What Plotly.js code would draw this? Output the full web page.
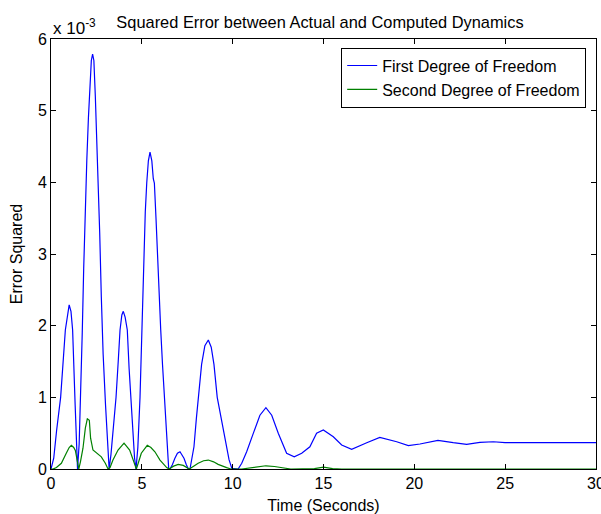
<!DOCTYPE html>
<html>
<head>
<meta charset="utf-8">
<script src="https://cdn.plot.ly/plotly-3.0.1.min.js"></script>
<style>html,body{margin:0;padding:0;background:#fff;}#chart{width:601px;height:514px;}</style>
</head>
<body>
<div id="chart"></div>
<script>
// Time (seconds) and squared error (in units of 1e-3)
const timeFirst = [0, 0.15, 0.31, 0.53, 0.79, 0.9, 1.0, 1.1, 1.19, 1.33, 1.46,
  1.55, 1.63, 1.72, 1.8, 1.88, 1.97, 2.06, 2.15, 2.22, 2.29, 2.36, 2.44, 2.52, 2.6, 2.68, 2.77, 2.87, 3.0, 3.1, 3.2,
  3.3, 3.45, 3.58, 3.7, 3.8, 3.9, 3.98, 4.08, 4.2, 4.3, 4.39, 4.5, 4.6, 4.68,
  4.78, 4.9, 5.0, 5.08, 5.19, 5.27, 5.36, 5.45, 5.55, 5.63, 5.69, 5.78, 5.87, 5.96, 6.04, 6.14, 6.24, 6.36, 6.48,
  6.55, 6.68, 6.82, 6.96, 7.1, 7.22, 7.32, 7.45, 7.56, 7.65,
  7.87, 8.0, 8.1, 8.29, 8.47, 8.66, 8.82, 8.97, 9.15, 9.3, 9.45, 9.63, 9.8, 9.95, 10.3,
  10.5, 10.77, 11.14, 11.5, 11.83, 12.15, 12.51, 12.97, 13.39, 13.8, 14.25, 14.62, 14.99, 15.54, 16.0, 16.55,
  17.38, 18.1, 19.03, 19.67, 20.31, 21.3, 22.14, 22.88, 23.61, 24.35, 24.99, 26, 28, 30];
const errFirst = [0, 0.15, 0.54, 1.0, 1.94, 2.15, 2.29, 2.2, 1.94, 0.89, 0,
  0.35, 1.0, 1.9, 2.8, 3.6, 4.3, 4.9, 5.4, 5.7, 5.79, 5.7, 5.2, 4.6, 3.9, 3.3, 2.4, 1.6, 0.9, 0.35, 0,
  0.2, 0.6, 1.0, 1.5, 1.94, 2.15, 2.2, 2.12, 1.94, 1.4, 1.0, 0.5, 0.15, 0,
  0.3, 1.0, 2.0, 2.87, 3.59, 3.99, 4.3, 4.42, 4.3, 4.05, 3.99, 3.5, 2.87, 2.3, 1.94, 1.45, 1.0, 0.45, 0,
  0, 0.06, 0.15, 0.22, 0.24, 0.2, 0.15, 0.06, 0, 0,
  0.31, 0.7, 1.0, 1.46, 1.72, 1.8, 1.7, 1.46, 1.0, 0.8, 0.57, 0.35, 0.13, 0.01, 0,
  0.08, 0.24, 0.5, 0.75, 0.855, 0.75, 0.5, 0.22, 0.17, 0.22, 0.31, 0.5, 0.544, 0.45, 0.335, 0.275,
  0.367, 0.44, 0.38, 0.326, 0.349, 0.40, 0.367, 0.345, 0.372, 0.38, 0.367, 0.367, 0.367, 0.367];

const timeSecond = [0, 0.11, 0.3, 0.57, 0.84, 1.0, 1.12, 1.25, 1.34, 1.45, 1.53,
  1.62, 1.76, 1.89, 2.0, 2.11, 2.18, 2.31, 2.5, 2.77, 2.99, 3.14,
  3.25, 3.41, 3.69, 4.02, 4.33, 4.51, 4.7,
  4.8, 4.97, 5.3, 5.5, 5.72, 6.0, 6.37, 6.5,
  6.75, 7.0, 7.28, 7.61, 7.85, 8.1, 8.4, 8.66, 8.95, 9.2, 9.67, 9.9,
  10.5, 11.0, 11.5, 11.83, 12.3, 12.8, 13.2, 14.5, 15.0, 15.5, 16, 30];
const errSecond = [0, 0, 0.02, 0.08, 0.22, 0.3, 0.33, 0.3, 0.26, 0.08, 0,
  0.1, 0.29, 0.57, 0.70, 0.68, 0.43, 0.265, 0.22, 0.17, 0.08, 0,
  0.02, 0.125, 0.265, 0.36, 0.265, 0.125, 0,
  0.08, 0.22, 0.33, 0.3, 0.24, 0.125, 0.02, 0,
  0.04, 0.065, 0.05, 0, 0.04, 0.08, 0.115, 0.125, 0.1, 0.065, 0.02, 0,
  0, 0.02, 0.04, 0.045, 0.035, 0.01, 0, 0.005, 0.025, 0.005, 0, 0];

const seriesNames = ['First Degree of Freedom', 'Second Degree of Freedom'];
const xTicks = [0, 5, 10, 15, 20, 25, 30];
const yTicks = [0, 1, 2, 3, 4, 5, 6];

const FONT = 'Liberation Sans, Arial, sans-serif';

const traces = [
  {x: timeFirst, y: errFirst, type: 'scatter', mode: 'lines', name: seriesNames[0],
   line: {color: '#0000ff', width: 1.2}},
  {x: timeSecond, y: errSecond, type: 'scatter', mode: 'lines', name: seriesNames[1],
   line: {color: '#008000', width: 1.2}}
];

const axisCommon = {
  showline: true, linecolor: '#000', linewidth: 1, mirror: 'ticks',
  ticks: 'inside', ticklen: 5, tickwidth: 1, tickcolor: '#000',
  showgrid: false, zeroline: false, ticklabeloverflow: 'allow',
  tickfont: {family: FONT, size: 16, color: '#000'}
};

const layout = {
  width: 601, height: 514,
  margin: {l: 51, r: 5, t: 39, b: 45, pad: 0},
  paper_bgcolor: '#fff', plot_bgcolor: '#fff',
  font: {family: FONT, size: 15, color: '#000'},
  title: {text: 'Squared Error between Actual and Computed Dynamics',
          font: {family: FONT, size: 16.4, color: '#000'},
          x: 320/601, xanchor: 'center', y: 1 - 22/514, yanchor: 'middle'},
  xaxis: Object.assign({}, axisCommon, {
    range: [0, 30], tickvals: xTicks, ticktext: xTicks.map(String),
    title: {text: 'Time (Seconds)', font: {family: FONT, size: 16, color: '#000'}, standoff: 10}
  }),
  yaxis: Object.assign({}, axisCommon, {
    range: [0, 6], tickvals: yTicks, ticktext: yTicks.map(String),
    title: {text: 'Error Squared', font: {family: FONT, size: 16, color: '#000'}, standoff: 11}
  }),
  showlegend: true,
  legend: {x: 0.982, xanchor: 'right', y: 0.98, yanchor: 'top',
           bordercolor: '#000', borderwidth: 1, bgcolor: '#fff', tracegroupgap: 0,
           font: {family: FONT, size: 16, color: '#000'}},
  annotations: [{
    text: 'x 10<sup>-3</sup>', xref: 'paper', yref: 'paper', x: 0, y: 1,
    xanchor: 'left', yanchor: 'bottom', yshift: -1, showarrow: false,
    font: {family: FONT, size: 17, color: '#000'}
  }]
};

Plotly.newPlot('chart', traces, layout, {staticPlot: true, displayModeBar: false});
</script>
</body>
</html>
